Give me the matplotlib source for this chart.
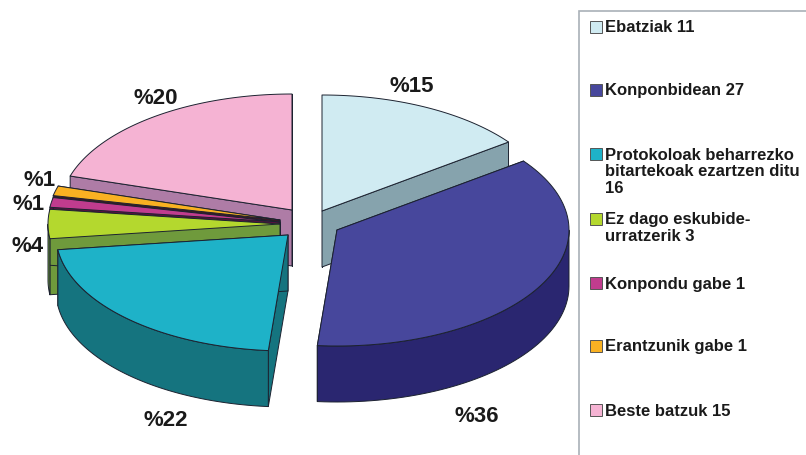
import numpy as np
import matplotlib
matplotlib.use("Agg")
import matplotlib.pyplot as plt
from matplotlib.patches import Polygon, Rectangle

# -------------------------------------------------
# Data
# -------------------------------------------------

names = ["Ebatziak", "Konponbidean",
         "Protokoloak beharrezko\nbitartekoak ezartzen ditu\n", "Ez dago eskubide-\nurratzerik",
         "Konpondu gabe", "Erantzunik gabe", "Beste batzuk"]
values = [11, 27, 16, 3, 1, 1, 15]

# -------------------------------------------------
# Style and layout (pixels of the picture)
# -------------------------------------------------

top_colors = ["#d0ebf2", "#47479c", "#1eb2c8", "#b4d82e", "#c03c8e", "#f9b122", "#f5b3d3"]
side_colors = ["#86a3ad", "#2a2670", "#15747f", "#6f9a3c", "#5a1040", "#3c1a24", "#ae7ca6"]
apex_x = [322, 337, 288, 280, 280, 280, 292]
apex_y = [211, 230, 235, 224, 222, 220, 210]
label_x = [412, 477, 166, 28, 29, 40, 156]
label_y = [87, 416, 421, 247, 204, 181, 99]
legend_y = [27, 90, 154, 219, 283, 346, 410]
legend_text_y = [28, 91, 172, 228, 284, 347, 411]
draw_order = [6, 5, 4, 3, 0, 1, 2]

rx = 232
ry = 116
depth = 56
font = "Liberation Sans"

fig = plt.figure(figsize=(8.06, 4.55), dpi=100)
ax = fig.add_axes([0, 0, 1, 1])
ax.set_xlim(0, 806)
ax.set_ylim(455, 0)
ax.axis("off")

edges = np.cumsum([0] + values) / sum(values) * 2 * np.pi


def add_poly(xs, ys, color, z):
    ax.add_patch(Polygon(np.column_stack([xs, ys]), closed=True, facecolor=color,
                         edgecolor="#1c2230", linewidth=0.7, joinstyle="round", zorder=z))


# -------------------------------------------------
# Exploded slices, back to front
# -------------------------------------------------

for rank, i in enumerate(draw_order):
    t = np.linspace(edges[i], edges[i + 1], 80)
    arc_x = apex_x[i] + rx * np.sin(t)
    arc_y = apex_y[i] - ry * np.cos(t)
    z = 2 + rank

    # cut faces
    for j in [0, -1]:
        add_poly([apex_x[i], arc_x[j], arc_x[j], apex_x[i]],
                 [apex_y[i], arc_y[j], arc_y[j] + depth, apex_y[i] + depth],
                 side_colors[i], z)

    # outer wall, only the part that faces the viewer
    front = np.cos(t) <= 0
    if front.sum() > 1:
        add_poly(np.r_[arc_x[front], arc_x[front][::-1]],
                 np.r_[arc_y[front], arc_y[front][::-1] + depth],
                 side_colors[i], z)

    # top
    add_poly(np.r_[apex_x[i], arc_x], np.r_[apex_y[i], arc_y], top_colors[i], z)

# -------------------------------------------------
# Percent labels
# -------------------------------------------------

for i in range(len(values)):
    ax.text(label_x[i], label_y[i], f"%{round(values[i] / sum(values) * 100)}",
            family=font, fontweight="bold", fontsize=16, color="#1a1a1a",
            ha="center", va="center", zorder=20)

# -------------------------------------------------
# Legend box
# -------------------------------------------------

ax.add_patch(Rectangle((578.5, 11), 260, 480, facecolor="white", edgecolor="#a9b0b8",
                       linewidth=1.2, zorder=1))

for i in range(len(values)):
    ax.add_patch(Rectangle((590, legend_y[i] - 6), 12, 12, facecolor=top_colors[i],
                           edgecolor="#555555", linewidth=0.7, zorder=2))
    sep = "" if names[i].endswith("\n") else " "
    ax.text(605, legend_text_y[i], f"{names[i]}{sep}{values[i]}", family=font,
            fontweight="bold", fontsize=12, color="#1a1a1a", linespacing=1.1,
            ha="left", va="center", zorder=3)

fig.savefig("out.png", dpi=100, facecolor="white")
